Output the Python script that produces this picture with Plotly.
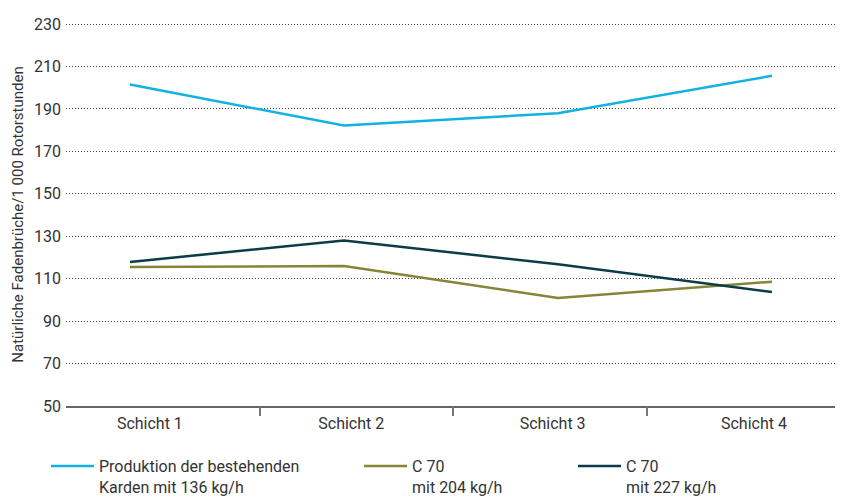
import plotly.graph_objects as go

categories = ["Schicht 1", "Schicht 2", "Schicht 3", "Schicht 4"]
series_names = [
    "Produktion der bestehenden<br>Karden mit 136 kg/h",
    "C 70<br>mit 204 kg/h",
    "C 70<br>mit 227 kg/h",
]
bestehend = [201.5, 182.2, 188.0, 205.6]
c70_204 = [115.5, 116.0, 100.9, 108.6]
c70_227 = [117.9, 128.0, 116.8, 103.7]
y_ticks = [50, 70, 90, 110, 130, 150, 170, 190, 210, 230]

colors = ["#12b1e4", "#858538", "#0d3c48"]
FONT = "Roboto, sans-serif"

W, H = 835, 491  # page body adds an 8px offset

x_idx = list(range(len(categories)))
fig = go.Figure()
legend_ids = ["legend", "legend2", "legend3"]
for vals, name, col, lg in zip([bestehend, c70_204, c70_227], series_names, colors, legend_ids):
    fig.add_trace(go.Scatter(x=x_idx, y=vals, mode="lines", name=name,
                             line=dict(color=col, width=2.5), legend=lg))

# label and boundary tick placement (styling)
label_pos = [0.093 + 0.941 * i for i in x_idx]
bound_pos = [0.607 + 0.904 * i for i in range(len(categories) - 1)]
xr = [-0.299, 3.332]

fig.add_trace(go.Scatter(x=[xr[0]], y=[50], xaxis="x2", mode="markers",
                         marker=dict(opacity=0), showlegend=False, hoverinfo="skip"))

fig.update_layout(
    width=W, height=H,
    margin=dict(l=58, r=0, t=15, b=93),
    paper_bgcolor="white", plot_bgcolor="white",
    font=dict(family=FONT, size=16, color="#333333"),
    xaxis=dict(range=xr, tickmode="array", tickvals=label_pos, ticktext=categories,
               ticks="", showgrid=False, zeroline=False, showline=True,
               linecolor="#666666", linewidth=2, ticklabelstandoff=2,
               tickfont=dict(size=16, color="#333333")),
    xaxis2=dict(range=xr, overlaying="x", anchor="y", side="bottom",
                tickmode="array", tickvals=bound_pos, ticks="outside",
                ticklen=9, tickwidth=1.5, tickcolor="#777777",
                showticklabels=False, showgrid=False, zeroline=False, showline=False),
    yaxis=dict(range=[50, 230.5], tickmode="array", tickvals=y_ticks,
               showgrid=True, gridcolor="#444444", gridwidth=1, griddash="1px,2px",
               zeroline=False, showline=False, ticks="", ticklabelstandoff=4,
               tickfont=dict(size=16, color="#333333"),
               title=dict(text="Natürliche Fadenbrüche/1 000 Rotorstunden",
                          font=dict(size=15, color="#333333"), standoff=6)),
)
common = dict(xref="container", yref="container", xanchor="left", yanchor="top",
              orientation="h", valign="top", bgcolor="rgba(0,0,0,0)", itemwidth=43,
              font=dict(family=FONT, size=16, color="#333333"))
fig.update_layout(
    legend=dict(x=38 / W, y=1 - 441 / H, **common),
    legend2=dict(x=351 / W, y=1 - 441 / H, **common),
    legend3=dict(x=565 / W, y=1 - 441 / H, **common),
)

fig.write_html("out.html")
